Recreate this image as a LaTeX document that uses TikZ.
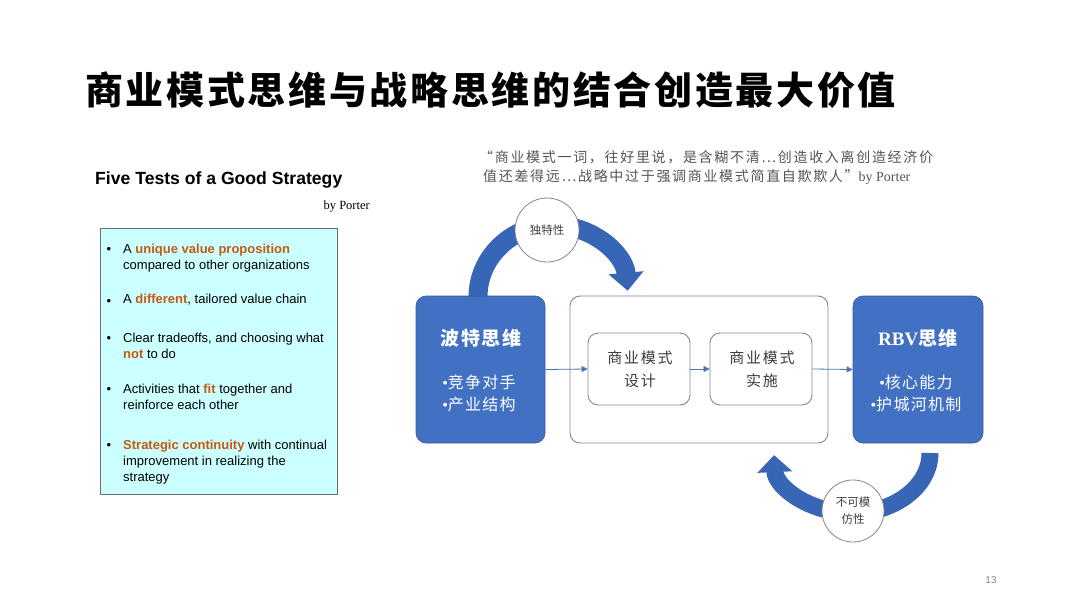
\documentclass[tikz,border=0pt]{standalone}
\usepackage{fontspec}
\setmainfont{Liberation Serif}
\setsansfont{Liberation Sans}
\newfontfamily\cjk{Noto Sans CJK SC}
\newfontfamily\cjksp[LetterSpace=12]{Noto Sans CJK SC}
\newfontfamily\cjktitle[LetterSpace=7]{Noto Sans CJK SC}
\newfontfamily\cjkspb[LetterSpace=8]{Noto Sans CJK SC}
\usetikzlibrary{arrows.meta}
\definecolor{bluebox}{RGB}{66,113,196}
\definecolor{bandblue}{RGB}{56,102,183}
\definecolor{cyanbg}{RGB}{204,255,255}
\definecolor{hlc}{RGB}{196,89,17}
\definecolor{qgray}{RGB}{85,85,85}
\definecolor{lgray}{RGB}{135,135,135}
\definecolor{conncol}{RGB}{80,115,175}
\definecolor{tgray}{RGB}{60,60,60}
\newcommand\hlt[1]{{\color{hlc}\bfseries #1}}
\newcommand\wbul{{\rmfamily •}}
\begin{document}
\begin{tikzpicture}[x=1pt,y=-1pt,
  itemtext/.style={inner sep=0, align=left, font=\sffamily\fontsize{13}{16.3}\selectfont, text=black},
  bul/.style={inner sep=0, anchor=base, font=\sffamily\fontsize{13}{14}\selectfont},
  bluerect/.style={draw=bluebox!80!black, line width=0.6pt, fill=bluebox, rounded corners=10pt, inner sep=0},
  whiterect/.style={draw=lgray, line width=0.9pt, fill=white, rounded corners=10pt, inner sep=0},
  bluetitle/.style={inner sep=0, text=white, font=\cjkspb\bfseries\fontsize{19}{22}\selectfont},
  bluelist/.style={inner sep=0, text=white, align=center, font=\cjkspb\fontsize{16}{22}\selectfont},
  innertext/.style={inner sep=0, text=tgray, align=center, font=\cjksp\fontsize{15}{23}\selectfont},
  conn/.style={draw=conncol, line width=0.8pt, -{Triangle[length=6pt,width=6pt]}},
  band/.style={draw=bandblue, line width=19pt},
  labcircle/.style={circle, draw=lgray, line width=0.8pt, fill=white, inner sep=0, align=center, text=tgray, font=\cjk\fontsize{11.5}{17}\selectfont}
]
\useasboundingbox[fill=white] (0,0) rectangle (1080,608);

% title
\node[anchor=west, inner sep=0, font=\cjktitle\bfseries\fontsize{38}{40}\selectfont] (title) at (85,90) {商业模式思维与战略思维的结合创造最大价值};

% quote
\node[anchor=west, inner sep=0, text=qgray, font=\cjksp\fontsize{14}{16}\selectfont] (q1) at (479,157) {“商业模式一词，往好里说，是含糊不清⋯创造收入离创造经济价};
\node[anchor=west, inner sep=0, text=qgray, font=\cjksp\fontsize{14}{16}\selectfont] (q2) at (483,177) {值还差得远⋯战略中过于强调商业模式简直自欺欺人”{\rmfamily\fontsize{14}{16}\selectfont by Porter}};

% five tests
\node[anchor=west, inner sep=0, font=\sffamily\bfseries\fontsize{17.6}{20}\selectfont] (ftitle) at (95,180) {Five Tests of a Good Strategy};
\node[anchor=east, inner sep=0, font=\rmfamily\fontsize{12.5}{14}\selectfont] (byp) at (370,207) {by Porter};

\node[draw=lgray!80!black, line width=1pt, fill=cyanbg, anchor=north west, inner sep=0, minimum width=237pt, minimum height=266pt] (tests) at (100,228) {};

\node[bul] (b1) at (109,253) {•};
\node[bul] (b2) at (109,305) {•};
\node[bul] (b3) at (109,342) {•};
\node[bul] (b4) at (109,393) {•};
\node[bul] (b5) at (109,449) {•};

\node[itemtext, anchor=north west] (t1) at (123,243.5) {A \hlt{unique value proposition}\\compared to other organizations};
\node[itemtext, anchor=west] (t2) at (123,300) {A \hlt{different}, tailored value chain};
\node[itemtext, anchor=north west] (t3) at (123,332.5) {Clear tradeoffs, and choosing what\\\hlt{not} to do};
\node[itemtext, anchor=north west] (t4) at (123,383.5) {Activities that \hlt{fit} together and\\reinforce each other};
\node[itemtext, anchor=north west] (t5) at (123,439.5) {\hlt{Strategic continuity} with continual\\improvement in realizing the\\strategy};

% diagram boxes
\node[bluerect, minimum width=129pt, minimum height=147pt] (porter) at (480.5,369.5) {};
\node[bluetitle] (porterT) at (481,338) {波特思维};
\node[bluelist] (porterL) at (479,393) {\wbul 竞争对手\\\wbul 产业结构};

\node[whiterect, minimum width=258pt, minimum height=147pt] (bm) at (699,369.5) {};
\node[whiterect, minimum width=102pt, minimum height=72pt] (design) at (639,369) {};
\node[innertext] (designT) at (640,369.5) {商业模式\\设计};
\node[whiterect, minimum width=102pt, minimum height=72pt] (impl) at (761,369) {};
\node[innertext] (implT) at (762,369.5) {商业模式\\实施};

\node[bluerect, minimum width=130pt, minimum height=147pt] (rbv) at (918,369.5) {};
\node[bluetitle] (rbvT) at (918,338) {{\rmfamily\bfseries RBV}思维};
\node[bluelist] (rbvL) at (916,393) {\wbul 核心能力\\\wbul 护城河机制};

% connectors
\draw[conn] (porter.east) -- (design.west);
\draw[conn] (design.east) -- (impl.west);
\draw[conn] (impl.east) -- (rbv.west);

% top curved arrow
\coordinate (a1s) at (478,297);
\draw[band, -{Triangle[width=34pt,length=18pt]}] (a1s) arc[start angle=180, end angle=355, x radius=75, y radius=72];
\node[labcircle, minimum size=64pt] (uniq) at (547,230) {独特性};

% bottom curved arrow
\coordinate (a2s) at (930,453);
\draw[band, line width=17pt, -{Triangle[width=34pt,length=17pt]}] (a2s) arc[start angle=0, end angle=178, x radius=78, y radius=60];
\node[labcircle, minimum size=62pt] (inim) at (853,511) {不可模\\仿性};

% page number
\node[inner sep=0, text=lgray, font=\sffamily\fontsize{10}{12}\selectfont] (pg) at (991,580) {13};
\end{tikzpicture}
\end{document}
